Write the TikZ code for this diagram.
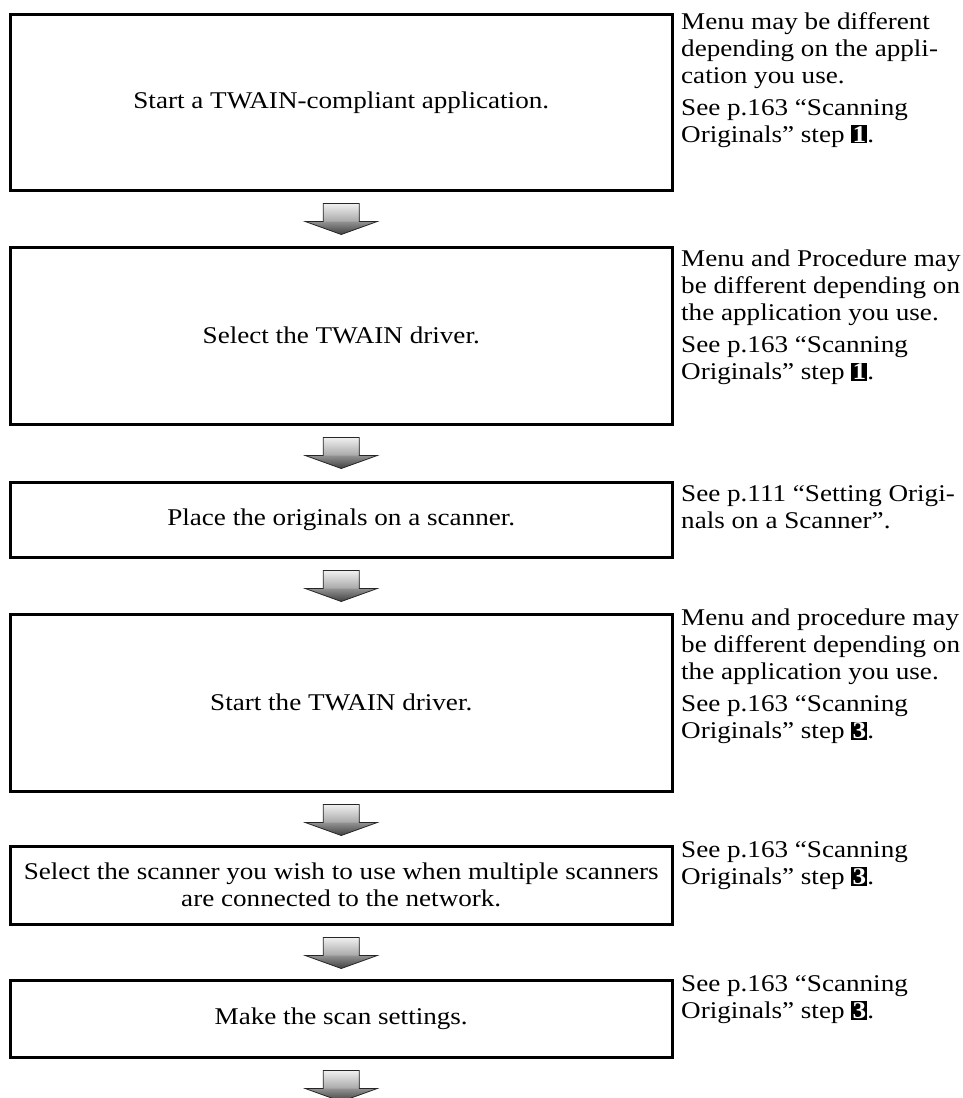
\documentclass[tikz,border=0pt]{standalone}
\usepackage{fontspec}
\setmainfont[FakeStretch=1.13]{Liberation Serif}
\usetikzlibrary{calc}
\newcommand{\stepnum}[1]{{\setlength{\fboxsep}{1.2pt}\colorbox{black}{\textcolor{white}{\textbf{#1}}}}}
\tikzset{
  flowbox/.style={draw=black, line width=2.5pt, anchor=north west, minimum width=662pt,
    align=center, inner sep=0pt, font=\fontsize{24}{27}\selectfont},
  notetext/.style={anchor=north west, align=left, inner sep=0pt,
    font=\fontsize{24}{27}\selectfont},
  pics/blockarrow/.style={code={
    \shade[top color=gray!12, bottom color=gray!70]
      (-18,0) -- (18,0) -- (18,18.5) -- (-18,18.5) -- cycle;
    \shade[top color=gray!85, bottom color=black!75]
      (36,18) -- (0,31) -- (-36,18) -- cycle;
    \draw[black!85, line width=0.8pt, line join=miter]
      (-18,0) -- (18,0) -- (18,18) -- (36,18) -- (0,31) -- (-36,18) -- (-18,18) -- cycle;
  }}
}
\begin{document}
\begin{tikzpicture}[x=1pt,y=-1pt]
\useasboundingbox (0,0) rectangle (963,1098);

\node[flowbox, minimum height=176pt] (b1) at (9,13) {Start a TWAIN-compliant application.};
\node[flowbox, minimum height=177pt] (b2) at (9,246) {Select the TWAIN driver.};
\node[flowbox, minimum height=75pt] (b3) at (9,481) {Place the originals on a scanner.};
\node[flowbox, minimum height=177pt] (b4) at (9,613) {Start the TWAIN driver.};
\node[flowbox, minimum height=78pt] (b5) at (9,845) {Select the scanner you wish to use when multiple scanners\\are connected to the network.};
\node[flowbox, minimum height=77pt] (b6) at (9,979) {Make the scan settings.};

\node[notetext] (n1) at (681,12) {Menu may be different\\depending on the appli-\\cation you use.\\[5pt]See p.163 “Scanning\\Originals” step \stepnum{1}.};
\node[notetext] (n2) at (681,250) {Menu and Procedure may\\be different depending on\\the application you use.\\[5pt]See p.163 “Scanning\\Originals” step \stepnum{1}.};
\node[notetext] (n3) at (681,485) {See p.111 “Setting Origi-\\nals on a Scanner”.};
\node[notetext] (n4) at (681,609) {Menu and procedure may\\be different depending on\\the application you use.\\[5pt]See p.163 “Scanning\\Originals” step \stepnum{3}.};
\node[notetext] (n5) at (681,841) {See p.163 “Scanning\\Originals” step \stepnum{3}.};
\node[notetext] (n6) at (681,975) {See p.163 “Scanning\\Originals” step \stepnum{3}.};

\foreach \b in {b1,b2,b3,b4,b5,b6}{
  \pic at ($(\b.south)+(0,12)$) {blockarrow};
}
\end{tikzpicture}
\end{document}
